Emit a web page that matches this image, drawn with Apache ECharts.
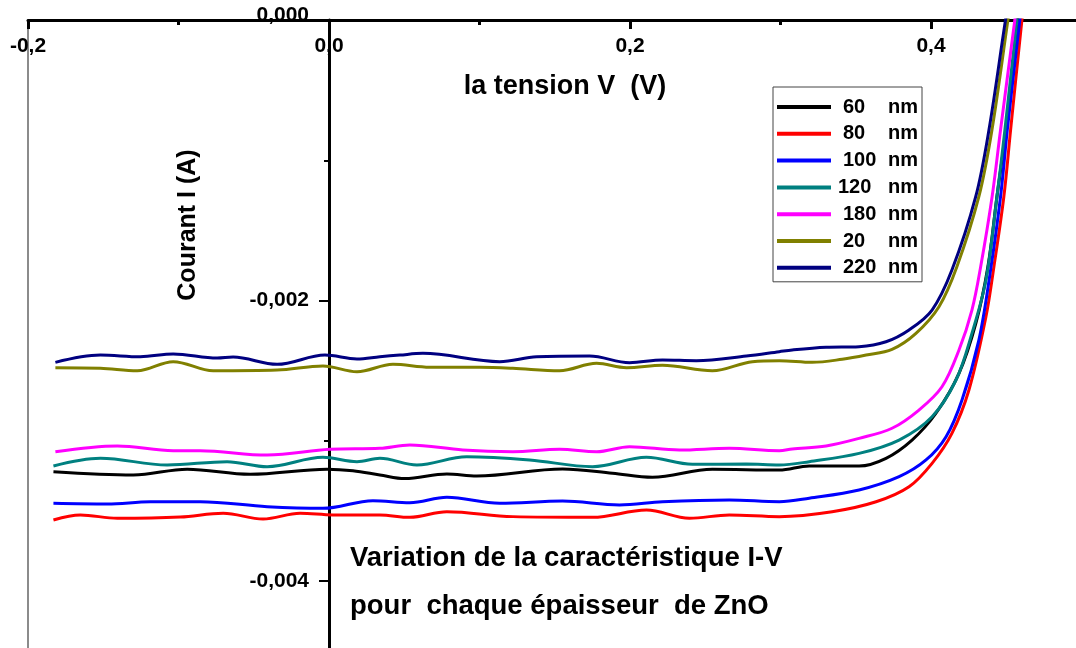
<!DOCTYPE html>
<html><head><meta charset="utf-8">
<script src="https://cdn.jsdelivr.net/npm/echarts/dist/echarts.min.js"></script>
<style>html,body{margin:0;padding:0;background:#fff}#c{width:1076px;height:648px}</style>
</head><body><div id="c"></div>
<script>
// Thickness labels (legend order)
const thicknesses = ['60', '80', '100', '120', '180', '20', '220'];
const xTicks = [-0.2, 0, 0.2, 0.4];
const yTicks = [0, -0.002, -0.004];

// Voltage (V) and current (A) per thickness
const V_60 = [-0.1831,-0.1300,-0.0942,-0.0524,-0.0013,0.0159,0.0338,0.0504,0.0783,0.0982,0.1552,0.1884,0.2149,0.2547,0.2992,0.3191,0.3522,0.3701,0.3874,0.4033,0.4186,0.4298,0.4378,0.4438,0.4498,0.4577,0.4594];
const I_60 = [-0.003221,-0.003244,-0.003203,-0.003239,-0.003203,-0.003214,-0.003244,-0.003270,-0.003237,-0.003251,-0.003201,-0.003232,-0.003261,-0.003203,-0.003209,-0.003180,-0.003180,-0.003125,-0.002995,-0.002804,-0.002519,-0.002163,-0.001759,-0.001260,-0.000784,0,0.000143];

const V_80 = [-0.1831,-0.1652,-0.1406,-0.0988,-0.0703,-0.0438,-0.0192,0.0027,0.0338,0.0537,0.0783,0.1221,0.1751,0.2109,0.2395,0.2660,0.2992,0.3343,0.3635,0.3854,0.4007,0.4139,0.4252,0.4365,0.4418,0.4484,0.4529,0.4604,0.4620];
const I_80 = [-0.003565,-0.003529,-0.003553,-0.003544,-0.003517,-0.003558,-0.003517,-0.003529,-0.003529,-0.003546,-0.003506,-0.003541,-0.003546,-0.003494,-0.003553,-0.003529,-0.003541,-0.003506,-0.003435,-0.003328,-0.003161,-0.002947,-0.002638,-0.002116,-0.001759,-0.001260,-0.000784,0,0.000143];

const V_100 = [-0.1831,-0.1473,-0.1187,-0.0856,-0.0411,-0.0040,0.0292,0.0537,0.0783,0.1134,0.1552,0.1930,0.2216,0.2660,0.2992,0.3191,0.3522,0.3788,0.3967,0.4100,0.4206,0.4318,0.4391,0.4462,0.4507,0.4590,0.4607];
const I_100 = [-0.003446,-0.003451,-0.003435,-0.003435,-0.003470,-0.003482,-0.003427,-0.003442,-0.003403,-0.003446,-0.003430,-0.003458,-0.003435,-0.003422,-0.003435,-0.003410,-0.003351,-0.003256,-0.003137,-0.002971,-0.002709,-0.002282,-0.001818,-0.001260,-0.000784,0,0.000143];

const V_120 = [-0.1831,-0.1519,-0.1075,-0.0677,-0.0411,-0.0040,0.0186,0.0338,0.0584,0.0915,0.1333,0.1751,0.2109,0.2415,0.2773,0.2992,0.3191,0.3522,0.3788,0.4007,0.4166,0.4272,0.4365,0.4438,0.4491,0.4571,0.4587];
const I_120 = [-0.003180,-0.003125,-0.003173,-0.003149,-0.003185,-0.003118,-0.003149,-0.003125,-0.003173,-0.003114,-0.003137,-0.003185,-0.003118,-0.003168,-0.003166,-0.003173,-0.003149,-0.003090,-0.002995,-0.002829,-0.002567,-0.002234,-0.001854,-0.001260,-0.000784,0,0.000143];

const V_180 = [-0.1818,-0.1406,-0.1035,-0.0856,-0.0411,0.0007,0.0338,0.0537,0.0889,0.1221,0.1532,0.1778,0.1997,0.2328,0.2660,0.2992,0.3078,0.3303,0.3522,0.3741,0.3920,0.4073,0.4186,0.4272,0.4330,0.4406,0.4462,0.4557,0.4574];
const I_180 = [-0.003078,-0.003037,-0.003071,-0.003071,-0.003102,-0.003061,-0.003054,-0.003030,-0.003066,-0.003078,-0.003061,-0.003078,-0.003042,-0.003066,-0.003054,-0.003071,-0.003059,-0.003037,-0.002983,-0.002911,-0.002781,-0.002615,-0.002353,-0.002068,-0.001759,-0.001260,-0.000784,0,0.000143];

const V_20 = [-0.1818,-0.1519,-0.1274,-0.1035,-0.0769,-0.0345,-0.0040,0.0186,0.0425,0.0670,0.1002,0.1221,0.1532,0.1778,0.1977,0.2216,0.2547,0.2813,0.2992,0.3211,0.3410,0.3569,0.3741,0.3900,0.4053,0.4172,0.4318,0.4405,0.4511,0.4531];
const I_20 = [-0.002479,-0.002483,-0.002501,-0.002436,-0.002501,-0.002496,-0.002467,-0.002508,-0.002455,-0.002476,-0.002476,-0.002483,-0.002501,-0.002448,-0.002479,-0.002462,-0.002501,-0.002436,-0.002429,-0.002441,-0.002419,-0.002389,-0.002348,-0.002234,-0.002044,-0.001759,-0.001260,-0.000784,0,0.000143];

const V_220 = [-0.1818,-0.1519,-0.1254,-0.1035,-0.0743,-0.0637,-0.0345,-0.0027,0.0186,0.0338,0.0471,0.0624,0.1134,0.1380,0.1731,0.1997,0.2216,0.2441,0.2773,0.2992,0.3078,0.3303,0.3522,0.3701,0.3854,0.4007,0.4139,0.4297,0.4385,0.4495,0.4518];
const I_220 = [-0.002441,-0.002389,-0.002401,-0.002381,-0.002410,-0.002403,-0.002455,-0.002389,-0.002417,-0.002401,-0.002389,-0.002377,-0.002436,-0.002401,-0.002396,-0.002443,-0.002424,-0.002429,-0.002396,-0.002365,-0.002353,-0.002334,-0.002329,-0.002294,-0.002210,-0.002068,-0.001783,-0.001260,-0.000784,0,0.000143];

const seriesV = [V_60, V_80, V_100, V_120, V_180, V_20, V_220];
const seriesI = [I_60, I_80, I_100, I_120, I_180, I_20, I_220];
const colors = ['#000000', '#ff0000', '#0000ff', '#008080', '#ff00ff', '#808000', '#000080'];

const FONT = '"Liberation Sans", Arial, sans-serif';
const X_MIN = -0.2, X_MAX = 0.6;
const GRID_LEFT = 28, GRID_RIGHT = -156;
const chart = echarts.init(document.getElementById('c'), null, {renderer: 'canvas'});
const gridWidth = 1076 - GRID_LEFT - GRID_RIGHT;
// shift the y axis (with its labels) onto x = 0
const yAxisOffset = -((0 - X_MIN) / (X_MAX - X_MIN)) * gridWidth;

const series = thicknesses.map((t, k) => ({
  name: t + ' nm',
  type: 'line',
  data: seriesV[k].map((v, j) => [v, seriesI[k][j]]),
  smooth: 0.35,
  showSymbol: false,
  symbol: 'none',
  clip: true,
  color: colors[k],
  lineStyle: {color: colors[k], width: 3},
  z: 3 + k
}));

const option = {
  animation: false,
  backgroundColor: '#ffffff',
  grid: {
    left: GRID_LEFT, top: 20, right: GRID_RIGHT, bottom: -213.5,
    show: true, borderColor: '#666', borderWidth: 1.5, backgroundColor: 'transparent',
    containLabel: false, outerBoundsMode: 'none'
  },
  xAxis: {
    type: 'value', position: 'top', min: X_MIN, max: X_MAX, interval: 0.2,
    axisLine: {show: true, onZero: false, lineStyle: {color: '#000', width: 3}},
    axisTick: {show: true, inside: true, length: 9, lineStyle: {color: '#000', width: 3}},
    minorTick: {show: true, splitNumber: 2, length: 5, lineStyle: {color: '#000', width: 3}},
    splitLine: {show: false}, minorSplitLine: {show: false},
    axisLabel: {
      inside: true, margin: 16, fontSize: 21, fontWeight: 'bold', color: '#000', fontFamily: FONT,
      formatter: v => xTicks.some(t => Math.abs(t - v) < 1e-9) ? v.toFixed(1).replace('.', ',') : ''
    }
  },
  yAxis: {
    type: 'value', position: 'left', min: -0.006, max: 0, interval: 0.002,
    offset: yAxisOffset,
    axisLine: {show: true, onZero: false, lineStyle: {color: '#000', width: 3}},
    axisTick: {show: true, inside: false, length: 10, lineStyle: {color: '#000', width: 2}},
    minorTick: {show: true, splitNumber: 2, length: 5, lineStyle: {color: '#000', width: 2}},
    splitLine: {show: false}, minorSplitLine: {show: false},
    axisLabel: {
      margin: 20, fontSize: 21, fontWeight: 'bold', color: '#000', fontFamily: FONT,
      formatter: v => {
        if (!yTicks.some(t => Math.abs(t - v) < 1e-9)) return '';
        if (Math.abs(v) < 1e-9) return '{z|0,000}';
        return v.toFixed(3).replace('.', ',');
      },
      rich: {z: {fontSize: 21, fontWeight: 'bold', color: '#000', fontFamily: FONT, padding: [0, 0, 10, 0]}}
    }
  },
  legend: {
    orient: 'vertical', left: 773, top: 87,
    itemWidth: 54, itemHeight: 4, itemGap: 6.8, icon: 'rect',
    borderColor: '#444', borderWidth: 1, padding: [10, 4, 4, 4],
    backgroundColor: '#fff',
    data: thicknesses.map(t => t + ' nm'),
    formatter: name => {
      const num = name.split(' ')[0];
      return (num === '120' ? '{m|' : '{n|') + num + '}{u|nm}';
    },
    textStyle: {
      fontSize: 20, fontWeight: 'bold', color: '#000', fontFamily: FONT, lineHeight: 20,
      rich: {
        n: {fontSize: 20, fontWeight: 'bold', fontFamily: FONT, color: '#000', width: 45, padding: [0, 0, 0, 7], lineHeight: 20},
        m: {fontSize: 20, fontWeight: 'bold', fontFamily: FONT, color: '#000', width: 50, padding: [0, 0, 0, 2], lineHeight: 20},
        u: {fontSize: 20, fontWeight: 'bold', fontFamily: FONT, color: '#000', lineHeight: 20}
      }
    }
  },
  graphic: [
    {type: 'text', x: 565, y: 87, z: 100,
     style: {text: 'la tension V  (V)', font: 'bold 27px ' + FONT, fill: '#000', align: 'center', verticalAlign: 'middle'}},
    {type: 'text', x: 188, y: 225, rotation: Math.PI / 2, z: 100,
     style: {text: 'Courant I (A)', font: 'bold 25px ' + FONT, fill: '#000', align: 'center', verticalAlign: 'middle'}},
    {type: 'text', x: 350, y: 558, z: 100,
     style: {text: 'Variation de la caractéristique I-V', font: 'bold 27.5px ' + FONT, fill: '#000', align: 'left', verticalAlign: 'middle'}},
    {type: 'text', x: 350, y: 606, z: 100,
     style: {text: 'pour  chaque épaisseur  de ZnO', font: 'bold 27.5px ' + FONT, fill: '#000', align: 'left', verticalAlign: 'middle'}}
  ],
  series: series
};
chart.setOption(option);
</script></body></html>
